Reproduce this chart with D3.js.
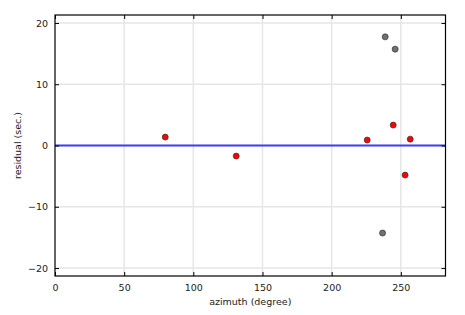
<!DOCTYPE html>
<html>
<head>
<meta charset="utf-8">
<script src="https://cdn.jsdelivr.net/npm/d3@7"></script>
<style>
  body { margin: 0; background: #fff; }
  text { font-family: "DejaVu Sans", sans-serif; }
</style>
</head>
<body>
<div id="chart"></div>
<script>
// residuals used in the solution (red) and rejected ones (gray)
var usedAzimuth = [79.7, 131.0, 225.7, 244.5, 256.8, 253.1];
var usedResidual = [1.37, -1.73, 0.88, 3.33, 1.04, -4.83];
var rejAzimuth = [238.7, 245.9, 236.8];
var rejResidual = [17.73, 15.73, -14.29];
var xTicks = [0, 50, 100, 150, 200, 250];
var yTicks = [-20, -10, 0, 10, 20];

var W = 465, H = 315;
var margin = { left: 55, right: 19.5, top: 15, bottom: 39 };
var iw = W - margin.left - margin.right, ih = H - margin.top - margin.bottom;

var x = d3.scaleLinear().domain([0, 282.3]).range([0, iw]);
var y = d3.scaleLinear().domain([-21.3, 21.3]).range([ih, 0]);

var svg = d3.select("#chart").append("svg")
  .attr("width", W).attr("height", H);
var g = svg.append("g")
  .attr("transform", "translate(" + margin.left + "," + margin.top + ")");

// grid
g.selectAll(".vgrid").data(xTicks.slice(1)).enter().append("line")
  .attr("x1", d => x(d)).attr("x2", d => x(d))
  .attr("y1", 0).attr("y2", ih)
  .style("stroke", "#e6e6e6").style("stroke-width", 1.5);
g.selectAll(".hgrid").data(yTicks).enter().append("line")
  .attr("x1", 0).attr("x2", iw)
  .attr("y1", d => y(d)).attr("y2", d => y(d))
  .style("stroke", "#e6e6e6").style("stroke-width", 1.5);

// zero line
g.append("line")
  .attr("x1", 0).attr("x2", iw)
  .attr("y1", y(0)).attr("y2", y(0))
  .style("stroke", "#3f3fef").style("stroke-width", 1.8);

// axes, ticks pointing in
function styleAxis(sel) {
  sel.select(".domain").remove();
  sel.selectAll("line").style("stroke", "#000");
  sel.selectAll("text").style("font-size", "9.5px").style("fill", "#222");
}
g.append("g").attr("transform", "translate(0," + ih + ")")
  .call(d3.axisBottom(x).tickValues(xTicks).tickSizeInner(-4).tickPadding(8).tickFormat(d3.format("d")))
  .call(styleAxis);
g.append("g")
  .call(d3.axisTop(x).tickValues(xTicks).tickSizeInner(-4).tickFormat(""))
  .call(styleAxis);
g.append("g")
  .call(d3.axisLeft(y).tickValues(yTicks).tickSizeInner(-4).tickPadding(7).tickFormat(d => d < 0 ? "\u2212" + Math.abs(d) : d))
  .call(styleAxis);
g.append("g").attr("transform", "translate(" + iw + ",0)")
  .call(d3.axisRight(y).tickValues(yTicks).tickSizeInner(-4).tickFormat(""))
  .call(styleAxis);

// frame
g.append("rect").attr("width", iw).attr("height", ih)
  .style("fill", "none").style("stroke", "#000").style("stroke-width", 1.2);

// points
g.selectAll(".rej").data(rejAzimuth).enter().append("circle")
  .attr("cx", d => x(d)).attr("cy", (d, i) => y(rejResidual[i])).attr("r", 3)
  .style("fill", "#707070").style("stroke", "#333").style("stroke-width", 0.7);
g.selectAll(".used").data(usedAzimuth).enter().append("circle")
  .attr("cx", d => x(d)).attr("cy", (d, i) => y(usedResidual[i])).attr("r", 3)
  .style("fill", "#ff0000").style("stroke", "#333").style("stroke-width", 0.7);

// labels
svg.append("text")
  .attr("x", margin.left + iw / 2).attr("y", 305)
  .attr("text-anchor", "middle").style("font-size", "9.5px").style("fill", "#222")
  .text("azimuth (degree)");
svg.append("text")
  .attr("transform", "translate(21," + (margin.top + ih / 2) + ") rotate(-90)")
  .attr("text-anchor", "middle").style("font-size", "9.5px").style("fill", "#222")
  .text("residual (sec.)");
</script>
</body>
</html>
